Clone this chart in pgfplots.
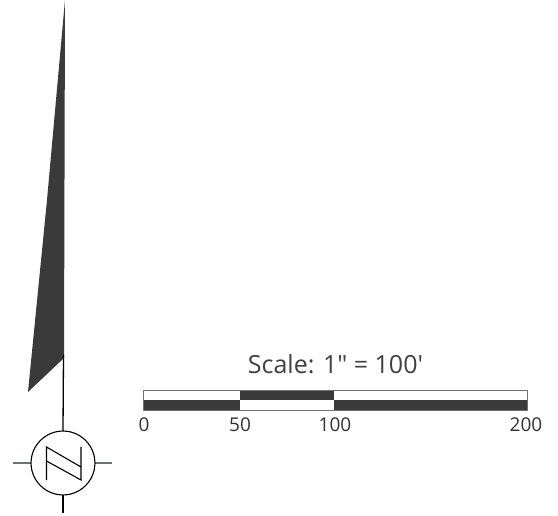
\documentclass[border=0pt]{standalone}
\usepackage{pgfplots}
\usepackage{fontspec}
\setmainfont{Open Sans}[Ligatures=TeXOff]
\pgfplotsset{compat=1.18}
\definecolor{ink}{HTML}{3A3A3A}
\definecolor{thin}{HTML}{3A3E3F}
\definecolor{edge}{HTML}{6E7474}
\begin{document}
\begin{tikzpicture}[x=1pt,y=1pt]
\begin{axis}[
  at={(0,0)}, anchor=south west,
  width=558pt, height=516pt, scale only axis,
  xmin=0, xmax=558, ymin=0, ymax=516, y dir=reverse,
  axis lines=none, clip=true, ticks=none,
]
% page extent
\addplot[draw=none, forget plot] coordinates {(0,0) (558,516)};
% north arrow blade
\addplot[fill=ink, draw=none, forget plot] coordinates {(65,0) (47,200) (28,392) (64,358) (65,0)} -- cycle;
% stem and compass ticks
\addplot[thin, line width=1.3pt, forget plot] coordinates {(63.5,355) (63,431)};
\addplot[thin, line width=1.3pt, forget plot] coordinates {(63,495) (63,513)};
\addplot[edge, line width=1.1pt, forget plot] coordinates {(13,463) (31,463)};
\addplot[edge, line width=1.1pt, forget plot] coordinates {(95,463) (112,463)};
% compass circle
\addplot[thin, line width=1.1pt, smooth, forget plot] coordinates {
(95,463) (93.9,471.3) (90.7,479) (85.6,485.6) (79,490.7) (71.3,493.9) (63,495)
(54.7,493.9) (47,490.7) (40.4,485.6) (35.3,479) (32.1,471.3) (31,463)
(32.1,454.7) (35.3,447) (40.4,440.4) (47,435.3) (54.7,432.1) (63,431)
(71.3,432.1) (79,435.3) (85.6,440.4) (90.7,447) (93.9,454.7) (95,463)};
% N
\addplot[thin, line width=1.1pt, forget plot] coordinates {(46.5,480) (46.5,447) (81,467)};
\addplot[thin, line width=1.1pt, forget plot] coordinates {(46.5,461) (81,480) (81,447)};
% scale bar
\addplot[fill=ink, draw=none, forget plot] coordinates {(143.5,400.5) (240,400.5) (240,411) (143.5,411)} -- cycle;
\addplot[fill=ink, draw=none, forget plot] coordinates {(240,391) (334,391) (334,400.5) (240,400.5)} -- cycle;
\addplot[fill=ink, draw=none, forget plot] coordinates {(334,400.5) (527,400.5) (527,411) (334,411)} -- cycle;
\addplot[edge, line width=1pt, forget plot] coordinates {(143.5,411) (143.5,391) (527,391) (527,411) (143.5,411)};
\node[font=\fontsize{25}{30}\selectfont, text=black!75, inner sep=0pt] at (axis cs:335.5,364.5) {Scale: 1" = 100'};
\node[font=\fontsize{19}{23}\selectfont, text=black!80, inner sep=0pt] at (axis cs:144,425) {0};
\node[font=\fontsize{19}{23}\selectfont, text=black!80, inner sep=0pt] at (axis cs:240,425) {50};
\node[font=\fontsize{19}{23}\selectfont, text=black!80, inner sep=0pt] at (axis cs:335,425) {100};
\node[font=\fontsize{19}{23}\selectfont, text=black!80, inner sep=0pt] at (axis cs:526,425) {200};
\end{axis}
\end{tikzpicture}
\end{document}
